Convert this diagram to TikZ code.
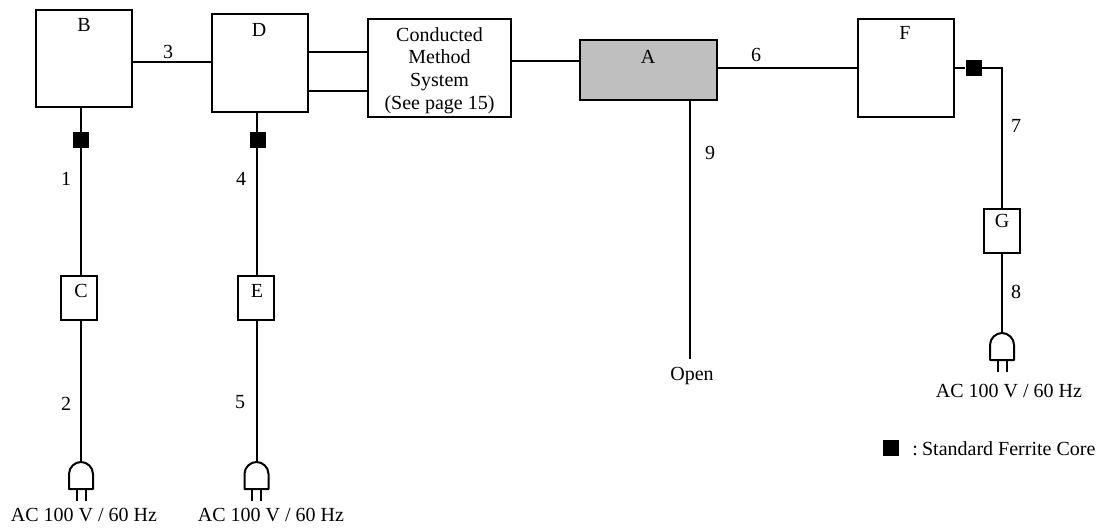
\documentclass[tikz,border=0pt]{standalone}
\usepackage{fontspec}
\setmainfont{Liberation Serif}
\tikzset{
  x=0.75pt,y=-0.75pt,
  wire/.style={line width=1.5pt,line cap=butt},
  unit/.style={draw=black,line width=1.5pt,fill=white,inner sep=0pt,minimum width=0pt,minimum height=0pt},
  core/.style={draw=none,fill=black,inner sep=0pt,minimum width=12pt,minimum height=12pt},
  lbl/.style={inner sep=0pt,font=\fontsize{15}{17}\selectfont,text=black,align=center},
  plug/.pic={
    \draw[wire,line join=round] (-12,27) -- (-12,12) .. controls (-12,5) and (-6,0) .. (0,0) .. controls (6,0) and (12,5) .. (12,12) -- (12,27) -- cycle;
    \draw[wire] (-4.5,27) -- (-4.5,39) (4.5,27) -- (4.5,39);
  }
}
\begin{document}
\begin{tikzpicture}
\useasboundingbox (0,0) rectangle (1099,528);
\coordinate (plugC) at (81,462);
\coordinate (plugE) at (256.5,462);
\coordinate (plugG) at (1002,333);
\coordinate (open) at (690,359);
\coordinate (bendF) at (1002,68.5);
\node[unit,minimum width=72pt,minimum height=72.5pt] (B) at (84,58.5) {};
\node[unit,minimum width=72pt,minimum height=73.5pt] (D) at (260,63) {};
\node[unit,minimum width=107pt,minimum height=73.5pt] (S) at (439.5,68) {};
\node[unit,fill=black!25,minimum width=103pt,minimum height=45pt] (A) at (648.5,70) {};
\node[unit,minimum width=72pt,minimum height=73.5pt] (F) at (906,68) {};
\node[unit,minimum width=27pt,minimum height=33pt] (C) at (79,298) {};
\node[unit,minimum width=27pt,minimum height=33pt] (E) at (256,298) {};
\node[unit,minimum width=27pt,minimum height=33pt] (G) at (1002,231) {};
\node[core] (c1) at (81,140) {};
\node[core] (c2) at (257.5,140) {};
\node[core] (c3) at (973.5,68.5) {};
\node[core] (c4) at (891,448) {};
% connectors
\draw[wire] (B.east |- 0,62) -- (D.west |- 0,62);
\draw[wire] (D.east |- 0,52) -- (S.west |- 0,52);
\draw[wire] (D.east |- 0,91) -- (S.west |- 0,91);
\draw[wire] (S.east |- 0,61.5) -- (A.west |- 0,61.5);
\draw[wire] (A.east |- 0,68.5) -- (F.west |- 0,68.5);
\draw[wire] (F.east |- 0,68.5) -- (c3.west);
\draw[wire] (c3.east) -- (bendF) -- (G.north);
\draw[wire] (81,0 |- B.south) -- (81,0 |- c1.north);
\draw[wire] (81,0 |- c1.south) -- (81,0 |- C.north);
\draw[wire] (81,0 |- C.south) -- (plugC);
\draw[wire] (256.5,0 |- D.south) -- (256.5,0 |- c2.north);
\draw[wire] (256.5,0 |- c2.south) -- (256.5,0 |- E.north);
\draw[wire] (256.5,0 |- E.south) -- (plugE);
\draw[wire] (G.south) -- (plugG);
\draw[wire] (690,0 |- A.south) -- (open);
\pic at (plugC) {plug};
\pic at (plugE) {plug};
\pic at (plugG) {plug};
% labels
\node[lbl] (tB) at (84,25) {B};
\node[lbl] (tD) at (259,30) {D};
\node[lbl] (tS) at (439.5,70.5) {\fontsize{15}{22.8}\selectfont Conducted\\Method\\System\\(See page 15)};
\node[lbl] (tA) at (648,57) {A};
\node[lbl] (tF) at (905,33) {F};
\node[lbl] (tC) at (81,291) {C};
\node[lbl] (tE) at (257,291) {E};
\node[lbl] (tG) at (1002,221) {G};
\node[lbl] (n1) at (66,179) {1};
\node[lbl] (n2) at (66,404) {2};
\node[lbl] (n3) at (168,52) {3};
\node[lbl] (n4) at (241,179) {4};
\node[lbl] (n5) at (240,402) {5};
\node[lbl] (n6) at (756,55) {6};
\node[lbl] (n7) at (1016,126) {7};
\node[lbl] (n8) at (1016,292) {8};
\node[lbl] (n9) at (710,153) {9};
\node[lbl] (tO) at (692,376) {Open};
\node[lbl] (p1) at (84,515) {AC 100 V / 60 Hz};
\node[lbl] (p2) at (271,515) {AC 100 V / 60 Hz};
\node[lbl] (p3) at (1009,390.5) {AC 100 V / 60 Hz};
\node[lbl,anchor=west] (leg) at (912,449) {:\kern-1.8pt{} Standard Ferrite Core};
\end{tikzpicture}
\end{document}
